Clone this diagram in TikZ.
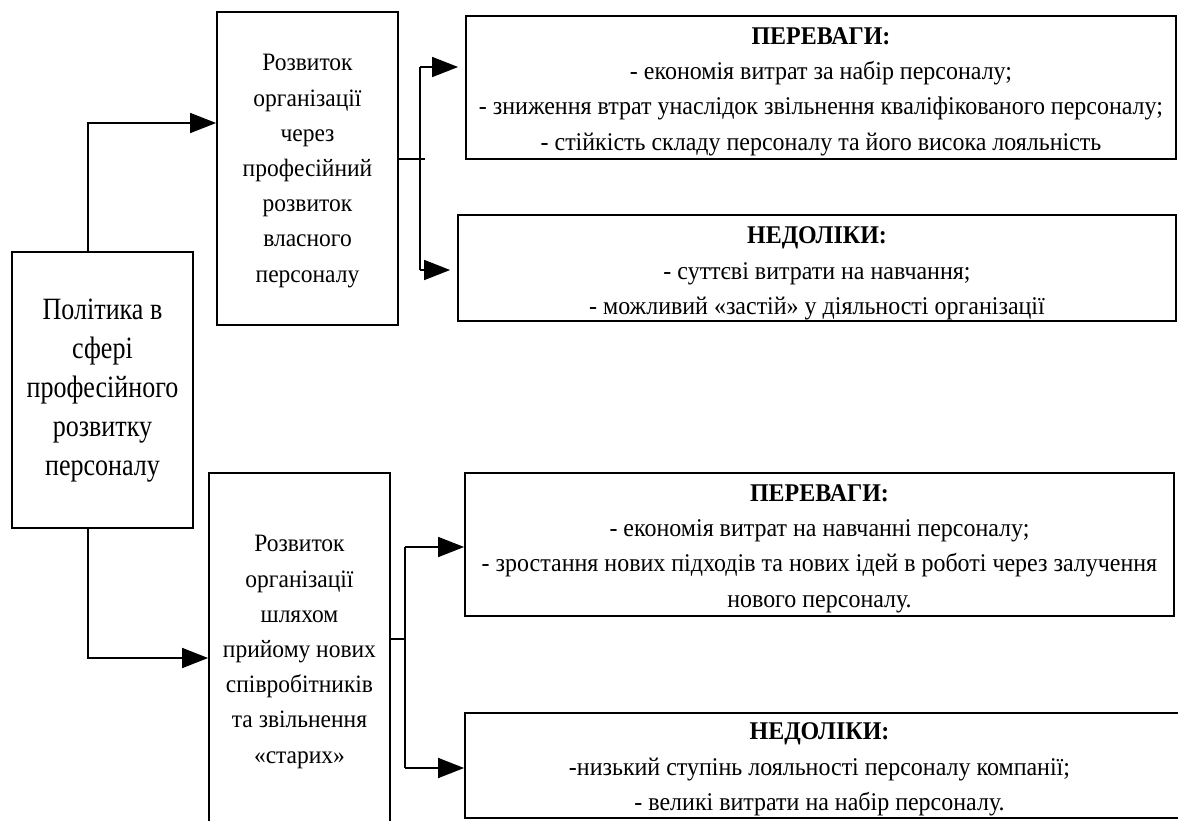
\documentclass[tikz,border=0pt]{standalone}
\usepackage{fontspec}
\setmainfont{Liberation Serif}
\newfontfamily\bodyfont[FakeStretch=0.94]{Liberation Serif}
\newfontfamily\polfont[FakeStretch=0.84]{Liberation Serif}
\usetikzlibrary{arrows.meta}
\begin{document}
\begin{tikzpicture}[x=1pt,y=-1pt,
  box/.style={draw, line width=1.8pt, inner sep=0pt},
  txt/.style={align=center, inner sep=0pt},
  mid/.style={txt, font=\bodyfont\fontsize{25}{35.2}\selectfont},
  side/.style={txt, font=\bodyfont\fontsize{25.5}{35.4}\selectfont},
  big/.style={txt, font=\polfont\fontsize{31}{39}\selectfont},
  link/.style={line width=1.6pt},
  tip/.style={-{Triangle[length=26pt,width=20pt]}}]
\useasboundingbox (0,0) rectangle (1178,820);
\clip (0,0) rectangle (1178,820);

% frames
\node[box, minimum width=181, minimum height=276] (pol) at (102.5,390) {};
\node[box, minimum width=181, minimum height=313] (m1) at (307.5,168.5) {};
\node[box, minimum width=181, minimum height=357] (m2) at (299.5,651.5) {};
\node[box, minimum width=710, minimum height=143] (adv1) at (821,87.5) {};
\node[box, minimum width=718, minimum height=106] (dis1) at (817,268) {};
\node[box, minimum width=709, minimum height=143] (adv2) at (819.5,544.5) {};
\node[box, minimum width=725, minimum height=105] (dis2) at (827.5,765.5) {};

% texts
\node[big] (pol-t) at (102.5,391)
  {Політика в\\сфері\\професійного\\розвитку\\персоналу};
\node[mid] (m1-t) at (307.5,171)
  {Розвиток\\організації\\через\\професійний\\розвиток\\власного\\персоналу};
\node[mid] (m2-t) at (299.5,652)
  {Розвиток\\організації\\шляхом\\прийому нових\\співробітників\\та звільнення\\«старих»};
\node[side] (adv1-t) at (821,91.5)
  {\textbf{ПЕРЕВАГИ:}\\- економія витрат за набір персоналу;\\- зниження втрат унаслідок звільнення кваліфікованого персоналу;\\- стійкість складу персоналу та його висока лояльність};
\node[side] (dis1-t) at (817,273.5)
  {\textbf{НЕДОЛІКИ:}\\- суттєві витрати на навчання;\\- можливий «застій» у діяльності організації};
\node[side] (adv2-t) at (819.5,548.5)
  {\textbf{ПЕРЕВАГИ:}\\- економія витрат на навчанні персоналу;\\- зростання нових підходів та нових ідей в роботі через залучення\\нового персоналу.};
\node[side] (dis2-t) at (819.5,769.5)
  {\textbf{НЕДОЛІКИ:}\\-низький ступінь лояльності персоналу компанії;\\- великі витрати на набір персоналу.};

% connector joints
\coordinate (j1) at (88,123);
\coordinate (j2) at (88,658);
\coordinate (s1) at (425,159);
\coordinate (t1) at (420,67);
\coordinate (t2) at (420,270);
\coordinate (s2) at (405,639);
\coordinate (t3) at (405,547);
\coordinate (t4) at (405,768);

% policy box to the strategies
\draw[link, tip] (pol.north -| j1) |- (m1.west |- j1);
\draw[link, tip] (pol.south -| j2) |- (m2.west |- j2);

% first strategy branches
\draw[link] (m1.east |- s1) -- (s1);
\draw[link] (t1) -- (t2);
\draw[link, tip, shorten >=7pt] (t1) -- (t1 -| adv1.west);
\draw[link, tip, shorten >=7pt] (t2) -- (t2 -| dis1.west);

% second strategy branches
\draw[link] (m2.east |- s2) -- (s2);
\draw[link] (t3) -- (t4);
\draw[link, tip] (t3) -- (t3 -| adv2.west);
\draw[link, tip] (t4) -- (t4 -| dis2.west);
\end{tikzpicture}
\end{document}
